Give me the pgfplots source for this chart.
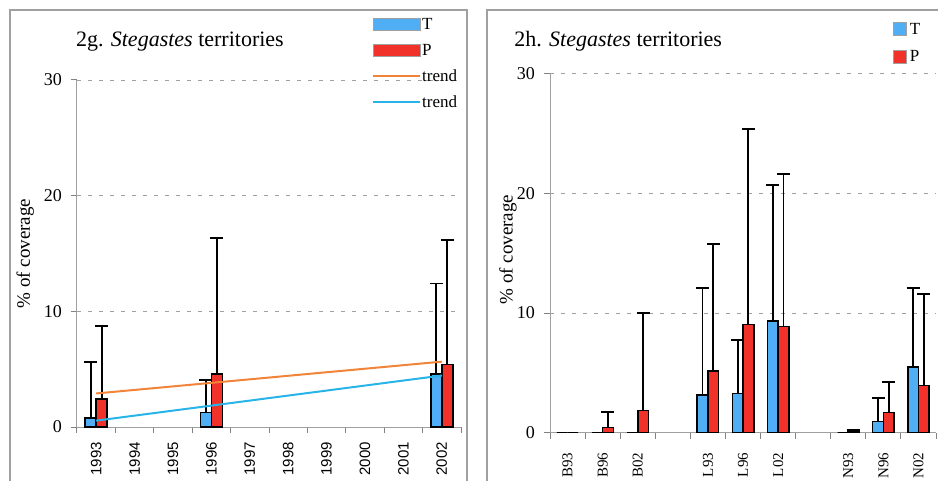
\documentclass[border=0pt]{standalone}
\usepackage{fontspec}
\setmainfont{Liberation Serif}
\newfontfamily\arialf{Liberation Sans}
\usepackage{pgfplots}
\pgfplotsset{compat=1.18}
\definecolor{tblue}{RGB}{80,174,245}
\definecolor{pred}{RGB}{240,50,42}
\definecolor{torange}{RGB}{242,132,58}
\definecolor{tcyan}{RGB}{40,180,232}
\definecolor{framegray}{RGB}{160,160,160}
\definecolor{axgray}{RGB}{160,160,160}
\definecolor{tickgray}{RGB}{130,130,130}
\pgfplotsset{
  mystyle/.style={
    scale only axis, ymin=0, ymax=30, ytick={0,10,20,30},
    axis lines=left, axis line style={-, axgray, line width=1pt},
    ymajorgrids, grid style={axgray, dash pattern=on 4pt off 7pt, line width=0.9pt},
    tick align=outside, major tick length=6pt,
    every tick/.style={tickgray, line width=1pt},
    xticklabels={},
    /pgf/number format/assume math mode=true,
    yticklabel style={font=\fontsize{18}{18}\selectfont, inner sep=0pt, xshift=-9pt},
    ylabel={\% of coverage},
    ylabel style={font=\fontsize{19}{19}\selectfont, anchor=center},
    title style={anchor=base west, font=\fontsize{22}{22}\selectfont, inner sep=0pt},
    legend cell align=left,
  },
  errbar/.style={draw=none, mark=none, forget plot,
    error bars/.cd, y dir=plus, y explicit,
    error bar style={draw=black, solid, line width=1.8pt},
    error mark options={draw=black, solid, rotate=90, mark size=6.5pt, line width=1.8pt}},
}
\begin{document}
\begin{tikzpicture}
\draw[framegray, line width=2pt] (10pt,-10pt) -- (10pt,470pt) -- (467pt,470pt) -- (467pt,-10pt);
\draw[framegray, line width=2pt] (487pt,-10pt) -- (487pt,470pt) -- (950pt,470pt);

\begin{axis}[mystyle,
  at={(77pt,53pt)}, anchor=south west,
  width=384pt, height=347pt,
  xmin=1992.5, xmax=2002.5,
  xtick={1992.5,1993.5,...,2002.5},
  extra x ticks={1993,...,2002},
  extra x tick labels={1993,1994,1995,1996,1997,1998,1999,2000,2001,2002},
  extra x tick style={major tick length=0pt,
    xticklabel style={rotate=90, anchor=east, inner sep=0pt, xshift=-15pt, font=\arialf\fontsize{15}{15}\selectfont}},
  ylabel style={at={(axis description cs:-0.135,0.5)}},
  title={2g. \textit{Stegastes} territories},
  title style={at={(axis description cs:-0.003,1.078)}},
  legend style={at={(axis description cs:0.768,1.181)}, anchor=north west, draw=none, fill=none,
    font=\fontsize{17}{17}\selectfont, row sep=12pt, inner sep=0pt,
    nodes={inner sep=1pt, text height=11pt, text depth=1pt}},
]
\addplot[ybar, bar width=11pt, bar shift=-5.5pt, fill=tblue, draw=black, line width=1.6pt,
  legend image code/.code={\draw[fill=tblue, draw=axgray, line width=0.7pt] (0pt,-6pt) rectangle (47pt,6pt);}]
  coordinates {(1993,0.8) (1996,1.25) (2002,4.56)};
\addlegendentry{T}
\addplot[ybar, bar width=11pt, bar shift=5.5pt, fill=pred, draw=black, line width=1.6pt,
  legend image code/.code={\draw[fill=pred, draw=axgray, line width=0.7pt] (0pt,-6pt) rectangle (47pt,6pt);}]
  coordinates {(1993,2.4) (1996,4.56) (2002,5.4)};
\addlegendentry{P}
% error bars of T (x at the centre of each T bar)
\addplot[errbar]
  coordinates {(1992.857,0.8) +- (0,4.8) (1995.857,1.25) +- (0,2.82) (2001.857,4.56) +- (0,7.84)};
% error bars of P (x at the centre of each P bar)
\addplot[errbar]
  coordinates {(1993.143,2.4) +- (0,6.3) (1996.143,4.56) +- (0,11.78) (2002.143,5.4) +- (0,10.8)};
\addplot[torange, line width=2pt, mark=none,
  legend image code/.code={\draw[torange, line width=2pt] (0pt,0pt) -- (47pt,0pt);}]
  coordinates {(1993,2.9) (2002,5.65)};
\addlegendentry{trend}
\addplot[tcyan, line width=2pt, mark=none,
  legend image code/.code={\draw[tcyan, line width=2pt] (0pt,0pt) -- (47pt,0pt);}]
  coordinates {(1993,0.55) (2002,4.45)};
\addlegendentry{trend}
\end{axis}

\begin{axis}[mystyle,
  at={(550pt,47.3pt)}, anchor=south west,
  width=386pt, height=359pt,
  xmin=-0.5, xmax=10.5,
  xtick={-0.5,0.5,...,10.5},
  extra x ticks={0,...,10},
  extra x tick labels={B93,B96,B02,,L93,L96,L02,,N93,N96,N02},
  extra x tick style={major tick length=0pt,
    xticklabel style={rotate=90, anchor=east, inner sep=0pt, xshift=-20pt, font=\fontsize{15}{15}\selectfont}},
  ylabel style={at={(axis description cs:-0.109,0.51)}},
  title={2h. \textit{Stegastes} territories},
  title style={at={(axis description cs:-0.093,1.058)}},
  legend style={at={(axis description cs:0.889,1.144)}, anchor=north west, draw=none, fill=none,
    font=\fontsize{17}{17}\selectfont, row sep=13.7pt, column sep=2pt, inner sep=0pt,
    nodes={inner sep=1pt, text height=11pt, text depth=1pt}},
]
\addplot[ybar, bar width=10.7pt, bar shift=-5.35pt, fill=tblue, draw=black, line width=1.6pt,
  legend image code/.code={\draw[fill=tblue, draw=axgray, line width=0.6pt] (0pt,-6.5pt) rectangle (13pt,6.5pt);}]
  coordinates {(0,0) (1,0) (2,0) (4,3.15) (5,3.26) (6,9.33) (8,0) (9,0.92) (10,5.49)};
\addlegendentry{T}
\addplot[ybar, bar width=10.7pt, bar shift=5.35pt, fill=pred, draw=black, line width=1.6pt,
  legend image code/.code={\draw[fill=pred, draw=axgray, line width=0.6pt] (0pt,-6.5pt) rectangle (13pt,6.5pt);}]
  coordinates {(0,0) (1,0.42) (2,1.84) (4,5.18) (5,9.05) (6,8.89) (8,0.15) (9,1.7) (10,3.93)};
\addlegendentry{P}
% error bars of T (x at the centre of each T bar)
\addplot[errbar]
  coordinates {(3.8475,3.15) +- (0,8.91) (4.8475,3.26) +- (0,4.48) (5.8475,9.33) +- (0,11.37) (8.8475,0.92) +- (0,2.01) (9.8475,5.49) +- (0,6.61)};
% error bars of P (x at the centre of each P bar)
\addplot[errbar]
  coordinates {(1.1525,0.42) +- (0,1.33) (2.1525,1.84) +- (0,8.16) (4.1525,5.18) +- (0,10.62) (5.1525,9.05) +- (0,16.32) (6.1525,8.89) +- (0,12.71) (8.1525,0.15) +- (0,0.1) (9.1525,1.7) +- (0,2.57) (10.1525,3.93) +- (0,7.67)};
\end{axis}
\pgfresetboundingbox
\useasboundingbox (0pt,0pt) rectangle (938pt,480pt);
\end{tikzpicture}
\end{document}
